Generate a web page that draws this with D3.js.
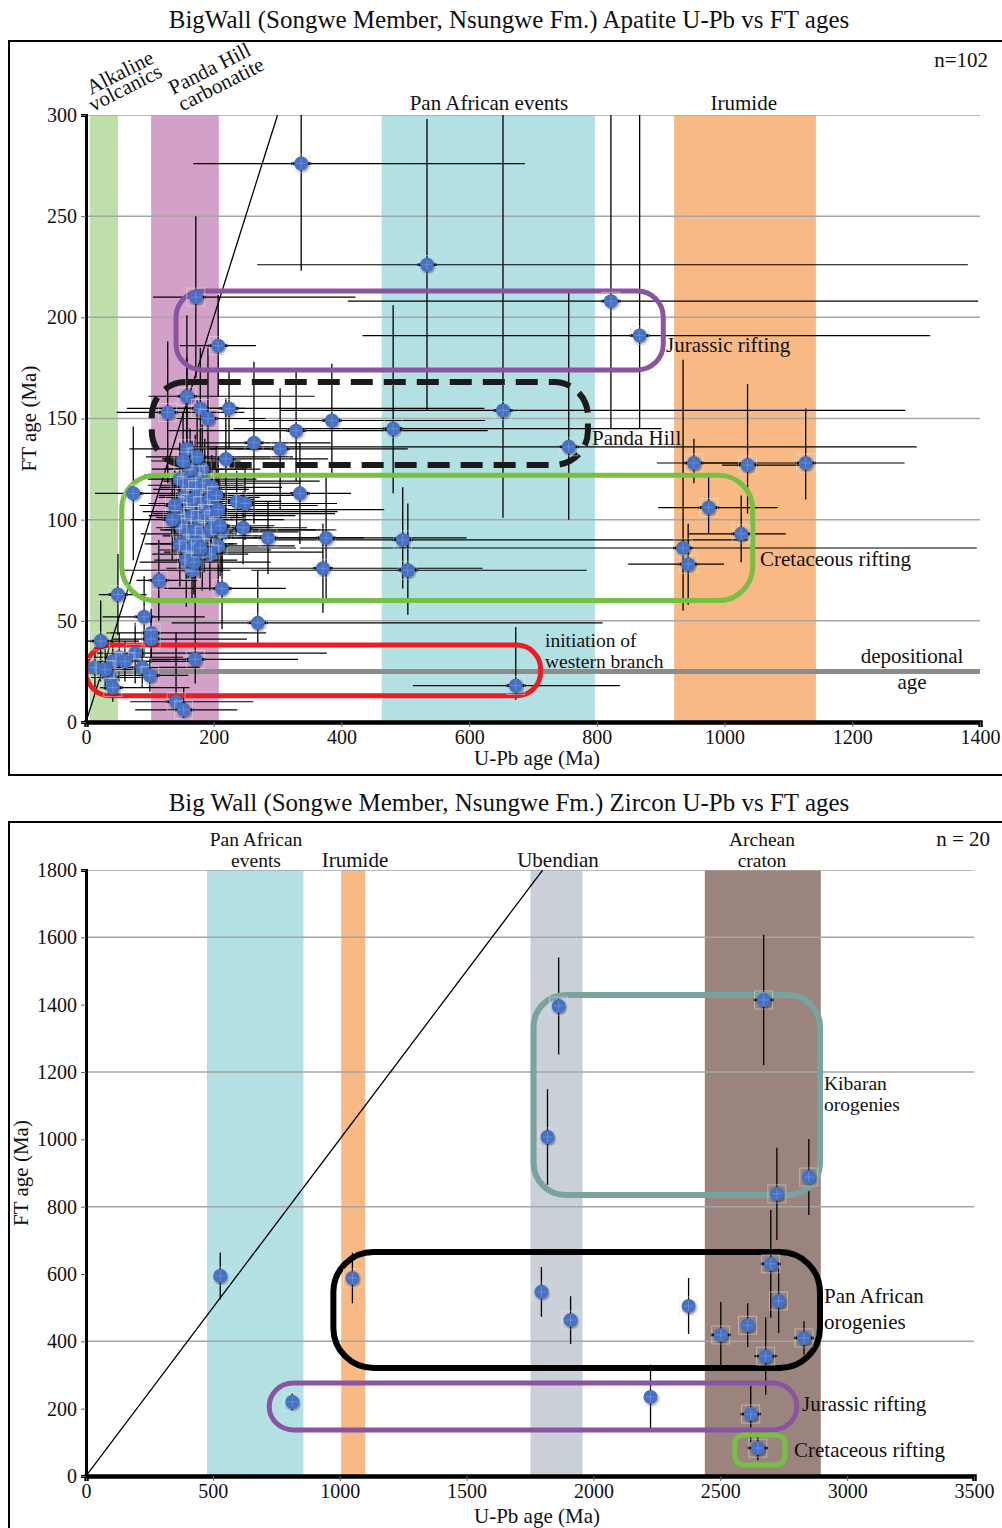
<!doctype html>
<html>
<head>
<script type='text/javascript' src='https://d3js.org/d3.v7.min.js'></script>
<style>
body { margin: 0; background: #fff; }
text { font-family: 'Liberation Serif', 'Times New Roman', serif; fill: #111; }
</style>
</head>
<body>
<script>
var width = 1002, height = 1528;

// ---- apatite panel data (Ma) ----
var apUPb      = [337,534,822,867,172,207,653,756,224,329,385,481,263,304,335,285,376,496,371,504,236,246,158,128,179,191,158,219,74,182,171,249,213,207,194,166,114,213,50,91,269,102,102,23,77,171,52,42,61,14,88,100,38,42,141,153,30,673,952,1036,1127,975,1026,935,943,
                  147,157,166,175,186,197,154,163,172,183,194,204,144,155,168,179,190,200,150,161,172,185,196,147,160,171,182,157,169,179,139,135,207,210,163,174,152];
var apUPbMinus = [169,266,412,434,67,60,349,609,160,200,130,250,90,110,170,100,160,200,245,245,80,90,60,80,70,50,90,100,60,60,80,70,80,50,90,110,35,90,30,65,135,70,60,20,60,71,40,30,40,14,60,50,30,20,72,76,25,161,58,40,180,79,83,600,94,
                  50,60,45,70,55,80,40,65,50,75,60,90,55,45,70,50,85,60,40,75,50,65,80,55,45,70,60,50,85,40,55,65,70,45,60,80,50];
var apUPbPlus  = [350,847,575,455,250,59,630,545,400,300,240,420,120,200,80,150,220,540,250,280,70,100,200,120,70,90,130,160,120,70,60,90,120,120,60,60,60,100,45,95,540,180,150,60,300,161,100,90,110,50,90,60,60,120,121,84,50,163,80,100,155,108,70,460,56,
                  120,90,200,80,150,110,60,230,100,180,70,130,250,90,160,60,200,110,140,75,220,100,170,90,130,60,190,80,120,150,95,70,260,85,110,150,90];
var apFT       = [276,226,208,191,210,186,154,136,155,144,149,145,138,135,113,91,91,90,76,75,109,96,161,153,155,150,135,130,113,125,122,108,94,87,83,75,70,66,63,52,49,44,41,40,34,31,32,30,30,27,27,23,22,17,10,6,26,18,128,127,128,106,93,86,78,
                  120,117,119,115,118,116,111,108,111,107,110,112,104,101,102,100,103,100,96,93,95,92,95,88,85,88,84,80,79,86,107,100,105,97,125,131,129];
var apFTMinus  = [53,72,63,46,40,25,53,36,20,25,28,32,40,30,25,18,30,24,22,22,15,18,40,35,30,35,45,30,33,22,20,18,20,20,18,15,20,20,20,20,12,12,12,20,15,12,12,10,10,10,10,8,8,7,3,4,10,7,10,24,18,13,14,31,20,
                  18,15,20,14,22,16,12,18,15,20,14,24,16,13,19,15,22,17,14,20,16,18,15,21,14,17,19,23,16,15,18,20,22,25,20,28,24];
var apFTPlus   = [53,72,92,110,40,25,146,77,20,30,28,61,40,30,25,18,30,26,22,33,15,18,40,35,30,35,45,30,33,22,20,18,20,20,18,15,20,30,20,20,26,12,12,20,15,49,12,10,10,10,10,8,8,7,34,11,10,29,12,40,27,17,19,93,20,
                  18,15,20,14,22,16,12,18,15,20,14,24,16,13,19,15,22,17,14,20,16,18,15,21,14,17,19,23,16,15,18,20,22,25,20,28,24];
var apTicksX = [0,200,400,600,800,1000,1200,1400];
var apTicksY = [0,50,100,150,200,250,300];
var apBands = [
  {name:'Alkaline volcanics', from:6, to:50, color:'#bfdfaa'},
  {name:'Panda Hill carbonatite', from:102, to:208, color:'#d3a1c8'},
  {name:'Pan African events', from:463, to:797, color:'#b3e0e3'},
  {name:'Irumide', from:921, to:1143, color:'#f8b984'}
];
var apLoops = [
  {x0:141, x1:904, y0:174, y1:213, color:'#8a55a0', w:5, r:26, dash:null},
  {x0:103, x1:786, y0:127, y1:168, color:'#1a1a1a', w:6, r:34, dash:'22,11'},
  {x0:56, x1:1044, y0:60, y1:122, color:'#76c043', w:5, r:34, dash:null},
  {x0:0, x1:712, y0:13, y1:38, color:'#ec1c24', w:5, r:24, dash:null}
];
var depositionalAge = 25;

// ---- zircon panel data (Ma) ----
var zrUPb    = [529,813,1050,1795,1910,2375,2225,2502,2608,2679,2699,2730,2830,2620,2648,1819,1863,2671,2723,2849];
var zrUPbErr = [0,0,0,0,0,0,0,12,0,46,20,0,15,40,40,0,0,10,0,0];
var zrFT     = [594,220,588,547,463,505,235,419,448,356,630,520,410,184,83,1007,1396,1414,838,888];
var zrFTErr  = [70,25,75,74,71,83,96,98,65,115,160,95,50,83,36,142,144,194,137,113];
var zrTicksX = [0,500,1000,1500,2000,2500,3000,3500];
var zrTicksY = [0,200,400,600,800,1000,1200,1400,1600,1800];
var zrGrid = [400,800,1200,1600,1800];
var zrBands = [
  {from:477, to:857, color:'#b3e0e3'},
  {from:1006, to:1101, color:'#f8b984'},
  {from:1752, to:1957, color:'#c9d0d8'},
  {from:2439, to:2896, color:'#9a847d'}
];
var zrLoops = [
  {x0:1764, x1:2893, y0:835, y1:1429, color:'#7aa3a0', w:6, r:32},
  {x0:975, x1:2893, y0:321, y1:665, color:'#000', w:6, r:40},
  {x0:722, x1:2802, y0:137, y1:276, color:'#8a55a0', w:5, r:24},
  {x0:2557, x1:2755, y0:33, y1:122, color:'#76c043', w:5, r:9}
];

var svg = d3.select('body').append('svg').attr('width', width).attr('height', height);
var defs = svg.append('defs');
var f = defs.append('filter').attr('id','shadow').attr('x','-50%').attr('y','-50%').attr('width','200%').attr('height','200%');
f.append('feDropShadow').attr('dx',1).attr('dy',1.5).attr('stdDeviation',1.3).attr('flood-color','#000').attr('flood-opacity',0.45);

function panel(o) {
  var g = svg.append('g');
  var x = o.x, y = o.y;
  // frame
  g.append('rect').attr('x',9).attr('y',o.frameTop).attr('width',1010).attr('height',o.frameH)
    .attr('fill','none').attr('stroke','#000').attr('stroke-width',2);
  g.append('text').attr('x',509).attr('y',o.titleY).attr('text-anchor','middle').style('font-size','25px').text(o.title);

  defs.append('clipPath').attr('id', o.id).append('rect')
    .attr('x', x.range()[0]).attr('y', y.range()[1])
    .attr('width', x.range()[1]-x.range()[0]).attr('height', y.range()[0]-y.range()[1]);
  var pg = g.append('g').attr('clip-path','url(#'+o.id+')');

  pg.selectAll('rect.band').data(o.bands).join('rect').attr('class','band')
    .attr('x', function(d){return x(d.from)}).attr('width', function(d){return x(d.to)-x(d.from)})
    .attr('y', y.range()[1]).attr('height', y.range()[0]-y.range()[1]).attr('fill', function(d){return d.color});

  pg.selectAll('line.grid').data(o.grid).join('line').attr('class','grid')
    .attr('x1', x.range()[0]).attr('x2', x.range()[1])
    .attr('y1', function(d){return y(d)}).attr('y2', function(d){return y(d)})
    .attr('stroke','#a6a6a6').attr('stroke-width',1.5);

  if (o.dep != null) {
    pg.append('line').attr('x1', x(0)).attr('x2', x.range()[1]).attr('y1', y(o.dep)).attr('y2', y(o.dep))
      .attr('stroke','#8c8c8c').attr('stroke-width',5);
  }
  // 1:1 line
  pg.append('line').attr('x1', x(0)).attr('y1', y(0)).attr('x2', x(o.oneMax)).attr('y2', y(o.oneMax))
    .attr('stroke','#000').attr('stroke-width',1.3);

  // error bars
  var eg = pg.append('g');
  eg.selectAll('line.ex').data(o.pts.filter(function(d){return d.um>0||d.up>0})).join('line').attr('class','ex')
    .attr('x1', function(d){return x(d.u-d.um)}).attr('x2', function(d){return x(d.u+d.up)})
    .attr('y1', function(d){return y(d.f)}).attr('y2', function(d){return y(d.f)})
    .attr('stroke','#000').attr('stroke-width',1.2);
  eg.selectAll('line.ey').data(o.pts).join('line').attr('class','ey')
    .attr('x1', function(d){return x(d.u)}).attr('x2', function(d){return x(d.u)})
    .attr('y1', function(d){return y(d.f-d.fm)}).attr('y2', function(d){return y(d.f+d.fp)})
    .attr('stroke','#000').attr('stroke-width',1.3);
  eg.selectAll('line.stub').data(o.pts.filter(function(d){return d.um>0||d.up>0})).join('line').attr('class','stub')
    .attr('x1', function(d){return x(d.u)-10}).attr('x2', function(d){return x(d.u)+10})
    .attr('y1', function(d){return y(d.f)}).attr('y2', function(d){return y(d.f)})
    .attr('stroke','#000').attr('stroke-width',2.6);

  // loops
  pg.selectAll('rect.loop').data(o.loops).join('rect').attr('class','loop')
    .attr('x', function(d){return x(d.x0)}).attr('y', function(d){return y(d.y1)})
    .attr('width', function(d){return x(d.x1)-x(d.x0)}).attr('height', function(d){return y(d.y0)-y(d.y1)})
    .attr('rx', function(d){return d.r}).attr('ry', function(d){return d.r})
    .attr('fill','none').attr('stroke', function(d){return d.color}).attr('stroke-width', function(d){return d.w})
    .attr('stroke-dasharray', function(d){return d.dash || null});

  // markers
  var mg = pg.selectAll('g.pt').data(o.pts).join('g').attr('class','pt')
    .attr('transform', function(d){return 'translate('+x(d.u)+','+y(d.f)+')'});
  mg.append('rect').attr('x',-9).attr('y',-9).attr('width',18).attr('height',18)
    .attr('fill','none').attr('stroke','#e6e6e6').attr('stroke-opacity',0.6).attr('stroke-width',0.8);
  mg.append('circle').attr('r',7).attr('fill','#4470c4').attr('filter','url(#shadow)');
  mg.append('path').attr('d','M-5,0H5M0,-5V5').attr('stroke','#9fb6e6').attr('stroke-opacity',0.5).attr('stroke-width',0.8);

  // axes
  var ax = g.append('g').attr('transform','translate(0,'+y(0)+')')
    .call(d3.axisBottom(x).tickValues(o.ticksX).tickSize(5).tickPadding(3).tickFormat(d3.format('d')));
  ax.select('.domain').attr('stroke','#000').attr('stroke-width',4.5);
  var ay = g.append('g').attr('transform','translate('+x(0)+',0)')
    .call(d3.axisLeft(y).tickValues(o.ticksY).tickSize(5).tickPadding(4).tickFormat(d3.format('d')));
  ay.select('.domain').attr('stroke','#000').attr('stroke-width',3);
  g.selectAll('.tick text').style('font-size','20px').style('font-family',"'Liberation Serif', serif").attr('fill','#111');
  g.selectAll('.tick line').attr('stroke','#666');

  g.append('text').attr('x', 537).attr('y', o.xLabelY).attr('text-anchor','middle').style('font-size','21px').text('U-Pb age (Ma)');
  g.append('text').attr('transform','translate('+o.yLabelX+','+((y.range()[0]+y.range()[1])/2)+') rotate(-90)')
    .attr('text-anchor','middle').style('font-size','21px').text('FT age (Ma)');
  return g;
}

function toPts(u, um, up, fv, fm, fp) {
  return d3.range(u.length).map(function(i){
    return {u:u[i], um:um[i], up:up[i], f:fv[i], fm:fm[i], fp:fp[i]};
  });
}

// multi-line label as one text with tspans
function lbl(g, lines, xx, yy, anchor, lh, rot, dx2, fs) {
  if (typeof lines === 'string') lines = [lines];
  var t = g.append('text').attr('text-anchor', anchor || 'start').style('font-size', (fs || 21) + 'px');
  if (rot) t.attr('transform','translate('+xx+','+yy+') rotate('+rot+')');
  else t.attr('transform','translate('+xx+','+yy+')');
  lines.forEach(function(s, i){
    t.append('tspan').attr('x', i ? (dx2 || 0) : 0).attr('dy', i ? (lh || 18) : 0).text(s);
  });
  return t;
}

// ---- apatite ----
var x1 = d3.scaleLinear().domain([0,1400]).range([86,980]);
var y1 = d3.scaleLinear().domain([0,300]).range([722,115]);
var g1 = panel({
  id:'clipA', x:x1, y:y1, frameTop:41, frameH:734, titleY:28,
  title:'BigWall (Songwe Member, Nsungwe Fm.) Apatite U-Pb vs FT ages',
  bands:apBands, grid:apTicksY.slice(1), dep:depositionalAge, oneMax:300,
  pts:toPts(apUPb, apUPbMinus, apUPbPlus, apFT, apFTMinus, apFTPlus),
  loops:apLoops, ticksX:apTicksX, ticksY:apTicksY, xLabelY:765, yLabelX:36
});
lbl(g1, ['Alkaline','volcanics'], 91, 95, 'start', 16, -27, -6);
lbl(g1, ['Panda Hill','carbonatite'], 173, 95, 'start', 19, -27, 1);
lbl(g1, 'Pan African events', x1(631), 110, 'middle');
lbl(g1, 'Irumide', x1(1030), 110, 'middle');
lbl(g1, 'n=102', 988, 67, 'end');
lbl(g1, 'Jurassic rifting', 666, 352);
lbl(g1, 'Panda Hill', 592, 445);
lbl(g1, 'Cretaceous rifting', 760, 566);
lbl(g1, ['initiation of','western branch'], 545, 647, 'start', 21, 0, 0, 19.5);
lbl(g1, ['depositional','age'], 912, 663, 'middle', 26);

// ---- zircon ----
var x2 = d3.scaleLinear().domain([0,3500]).range([86,974]);
var y2 = d3.scaleLinear().domain([0,1800]).range([1476,870]);
var g2 = panel({
  id:'clipZ', x:x2, y:y2, frameTop:822, frameH:720, titleY:811,
  title:'Big Wall (Songwe Member, Nsungwe Fm.) Zircon U-Pb vs FT ages',
  bands:zrBands, grid:zrGrid, dep:null, oneMax:1800,
  pts:toPts(zrUPb, zrUPbErr, zrUPbErr, zrFT, zrFTErr, zrFTErr),
  loops:zrLoops, ticksX:zrTicksX, ticksY:zrTicksY, xLabelY:1523, yLabelX:28
});
lbl(g2, ['Pan African','events'], 256, 846, 'middle', 21, 0, 0, 19.5);
lbl(g2, 'Irumide', 355, 867, 'middle');
lbl(g2, 'Ubendian', 558, 867, 'middle');
lbl(g2, ['Archean','craton'], 762, 846, 'middle', 21, 0, 0, 19.5);
lbl(g2, 'n = 20', 990, 846, 'end');
lbl(g2, ['Kibaran','orogenies'], 824, 1090, 'start', 21, 0, 0, 19.5);
lbl(g2, ['Pan African','orogenies'], 824, 1303, 'start', 26);
lbl(g2, 'Jurassic rifting', 802, 1411);
lbl(g2, 'Cretaceous rifting', 794, 1457);
console.log('ready..');
</script>
</body>
</html>
